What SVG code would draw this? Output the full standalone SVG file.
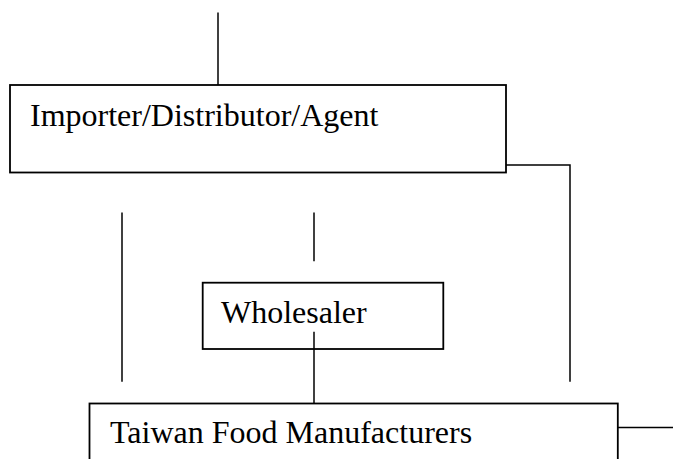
<svg xmlns="http://www.w3.org/2000/svg" width="673" height="459" viewBox="0 0 673 459">
<style>
  .box { fill: #ffffff; stroke: #000000; stroke-width: 1.8; }
  .line { fill: none; stroke: #000000; stroke-width: 1.5; }
  .label { font-family: "Liberation Serif", "Times New Roman", serif; font-size: 32px; fill: #000000; }
</style>
<rect width="673" height="459" fill="#ffffff"/>
<g id="connectors">
  <line class="line" x1="218" y1="12.5" x2="218" y2="85"/>
  <polyline class="line" points="506,165 570,165 570,381.7"/>
  <line class="line" x1="122" y1="212.5" x2="122" y2="381.7"/>
  <line class="line" x1="314" y1="212.5" x2="314" y2="261.3"/>
  <line class="line" x1="314" y1="331.7" x2="314" y2="403.3"/>
  <line class="line" x1="618" y1="427.5" x2="673" y2="427.5"/>
</g>
<g id="importer">
  <rect class="box" x="10" y="85" width="496" height="87.5" fill-opacity="0"/>
  <text class="label" x="30" y="126">Importer/Distributor/Agent</text>
</g>
<g id="wholesaler">
  <rect class="box" x="202.7" y="282.7" width="240.6" height="66.3" fill-opacity="0"/>
  <text class="label" x="221" y="323">Wholesaler</text>
</g>
<g id="taiwan">
  <rect class="box" x="89.5" y="403.5" width="528.3" height="70" fill-opacity="0"/>
  <text class="label" x="110" y="443">Taiwan Food Manufacturers</text>
</g>
</svg>
